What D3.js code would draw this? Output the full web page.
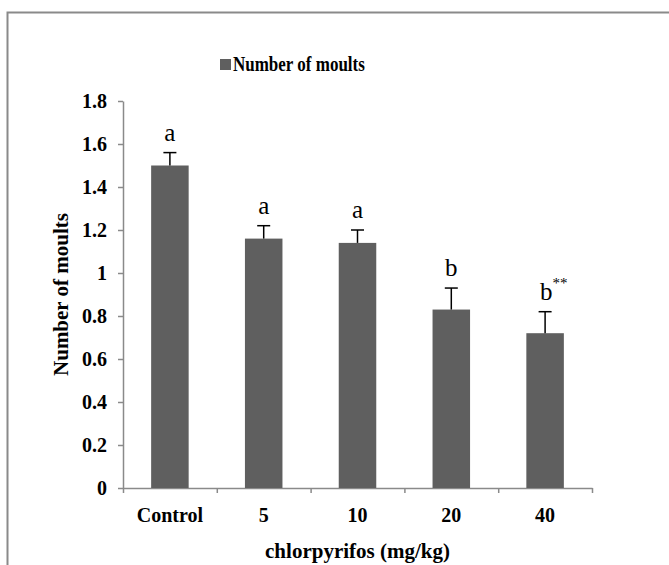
<!DOCTYPE html>
<html><head><meta charset="utf-8">
<script src="https://cdn.jsdelivr.net/npm/d3@7"></script>
<style>
body{margin:0;background:#fff}svg{display:block}
svg text{font-family:"Liberation Serif","Tinos","DejaVu Serif",serif !important;}
</style>
</head><body>
<script>
const categories = ["Control", "5", "10", "20", "40"];
const values = [1.5, 1.16, 1.14, 0.83, 0.72];
const errors = [0.06, 0.06, 0.06, 0.10, 0.10];
const letters = ["a", "a", "a", "b", "b"];
const stars = ["", "", "", "", "**"];
const yTicks = [0, 0.2, 0.4, 0.6, 0.8, 1, 1.2, 1.4, 1.6, 1.8];
const seriesName = "Number of moults";

const W = 669, H = 565;
const svg = d3.select("body").append("svg").attr("width", W).attr("height", H);

// frame
svg.append("path").attr("d", `M7.5,${H} V12.5 H${W}`).attr("fill", "none").attr("stroke", "#8a8a8a").attr("stroke-width", 2);

const x0 = 123, x1 = 592, yTop = 101, yBot = 488;
const x = d3.scaleBand().domain(categories).range([x0, x1]).paddingInner(0.6).paddingOuter(0.3);
const xEdge = d3.scaleLinear().domain([0, categories.length]).range([x0, x1]);
const y = d3.scaleLinear().domain([0, 1.8]).range([yBot, yTop]);

// y axis
const gy = svg.append("g").attr("transform", `translate(${x0},0)`)
  .call(d3.axisLeft(y).tickValues(yTicks).tickSize(5).tickPadding(11).tickSizeOuter(0).tickFormat(d => d3.format("~g")(d)));
gy.select(".domain").attr("stroke", "#8a8a8a").attr("stroke-width", 1.5);
gy.selectAll(".tick line").attr("stroke", "#8a8a8a").attr("stroke-width", 1.5);
gy.selectAll(".tick text").attr("font-weight", "bold").attr("font-size", 20).attr("fill", "#000");

// x axis boundaries
const gx = svg.append("g").attr("transform", `translate(0,${yBot})`)
  .call(d3.axisBottom(xEdge).tickValues(d3.range(categories.length + 1)).tickSize(5).tickSizeOuter(0).tickFormat(""));
gx.select(".domain").attr("stroke", "#8a8a8a").attr("stroke-width", 1.5);
gx.selectAll(".tick line").attr("stroke", "#8a8a8a").attr("stroke-width", 1.5);

const gxl = svg.append("g").attr("transform", `translate(0,${yBot})`)
  .call(d3.axisBottom(x).tickSize(0).tickPadding(20));
gxl.select(".domain").remove();
gxl.selectAll(".tick text").attr("font-weight", "bold").attr("font-size", 20).attr("fill", "#000");

// bars
svg.selectAll("rect.bar").data(values).join("rect").attr("class", "bar")
  .attr("x", (d, i) => x(categories[i])).attr("width", x.bandwidth())
  .attr("y", d => y(d)).attr("height", d => y(0) - y(d)).attr("fill", "#5f5f5f");

// error bars
const cx = i => x(categories[i]) + x.bandwidth() / 2;
const eg = svg.append("g").attr("stroke", "#000").attr("stroke-width", 1.5);
values.forEach((v, i) => {
  eg.append("line").attr("x1", cx(i)).attr("x2", cx(i)).attr("y1", y(v)).attr("y2", y(v + errors[i]));
  eg.append("line").attr("x1", cx(i) - 6.5).attr("x2", cx(i) + 6.5).attr("y1", y(v + errors[i])).attr("y2", y(v + errors[i]));
});

// letters
values.forEach((v, i) => {
  const t = svg.append("text").attr("x", cx(i)).attr("y", y(v + errors[i]) - 12)
    .attr("text-anchor", "middle").attr("font-size", 25).attr("fill", "#000");
  t.append("tspan").text(letters[i]);
  if (stars[i]) {
    t.attr("text-anchor", "start").attr("x", cx(i) - 5);
    t.append("tspan").attr("font-size", 15).attr("dy", -12).attr("fill", "#000").text(stars[i]);
  }
});

// axis titles
svg.append("text").attr("x", (x0 + x1) / 2).attr("y", 558).attr("text-anchor", "middle")
  .attr("font-weight", "bold").attr("font-size", 21).text("chlorpyrifos (mg/kg)");
svg.append("text").attr("transform", `translate(68,${(yTop + yBot) / 2}) rotate(-90)`).attr("text-anchor", "middle")
  .attr("font-weight", "bold").attr("font-size", 21).text("Number of moults");

// legend
svg.append("rect").attr("x", 220).attr("y", 59).attr("width", 11).attr("height", 11).attr("fill", "#5f5f5f");
svg.append("text").attr("transform", "translate(233,71) scale(1,1.2)").attr("font-weight", "bold").attr("font-size", 17).text(seriesName);
</script>
</body></html>
